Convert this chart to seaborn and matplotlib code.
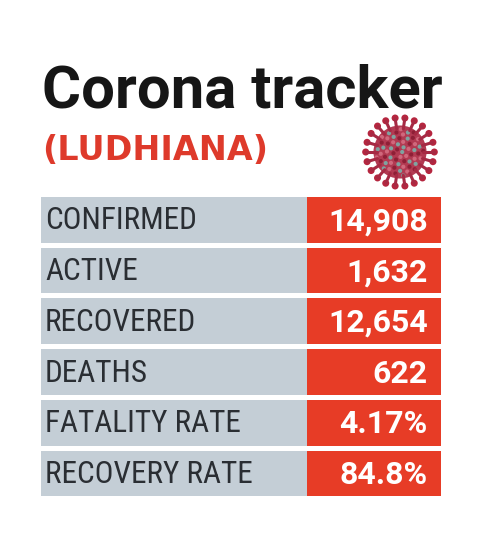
import numpy as np
import pandas as pd
import matplotlib
matplotlib.use("Agg")
import matplotlib.pyplot as plt
import seaborn as sns
from matplotlib import font_manager as fm
from matplotlib.patches import Circle

# ---- data ----
title = "Corona tracker"
subtitle = "(LUDHIANA)"
categories = ["CONFIRMED", "ACTIVE", "RECOVERED", "DEATHS", "FATALITY RATE", "RECOVERY RATE"]
values = ["14,908", "1,632", "12,654", "622", "4.17%", "84.8%"]


def pick(*names):
    avail = {f.name for f in fm.fontManager.ttflist}
    for n in names:
        if n in avail:
            return n
    return "DejaVu Sans"


sns.set_theme(style="white")
plt.rcParams["font.family"] = ["DejaVu Sans"]

NARROW = pick("Liberation Sans Narrow", "Roboto Condensed", "Roboto")
BOLD = pick("Roboto", "Lato", "DejaVu Sans")

GRAY = "#c4ced6"
RED = "#e73c26"
TEXT = "#2a2e33"

W, H = 479, 540
fig = plt.figure(figsize=(W / 100, H / 100), dpi=100)
fig.patch.set_facecolor("white")

# ---- title ----
fig.text(42 / W, 1 - 107 / H, title, fontfamily=BOLD, fontweight="bold",
         fontsize=43, color="#161616", va="baseline", ha="left")
fig.text(42 / W, 1 - 159.5 / H, subtitle, fontfamily="DejaVu Sans", fontweight="bold",
         fontsize=24, color="#de3a2b", va="baseline", ha="left")

# ---- table ----
n = len(categories)
df = pd.DataFrame({"category": categories, "value": values})
LABEL_END, TOTAL = 1.0, 1.5
df["label_cell"] = LABEL_END
df["value_cell"] = TOTAL

top_px, bot_px = 194.4, 498.8
ax = fig.add_axes([40.7 / W, 1 - bot_px / H, 400 / W, (bot_px - top_px) / H])
sns.barplot(data=df, x="value_cell", y="category", color=RED, saturation=1,
            width=0.9, linewidth=0, orient="h", ax=ax)
sns.barplot(data=df, x="label_cell", y="category", color=GRAY, saturation=1,
            width=0.9, linewidth=0, orient="h", ax=ax)
ax.set_xlim(0, TOTAL)
ax.set_ylim(n - 0.5, -0.5)
ax.axis("off")

for i, (c, v) in enumerate(zip(df["category"], df["value"])):
    ax.text(0.016, i + 0.19, c, fontfamily=NARROW, fontsize=22.5, color=TEXT,
            va="baseline", ha="left")
    ax.text(1.452, i + 0.21, v, fontfamily=BOLD, fontweight="bold", fontsize=23,
            color="white", va="baseline", ha="right")

# ---- virus decoration ----
vax = fig.add_axes([361 / W, 1 - 191 / H, 78 / W, 78 / H])
vax.set_xlim(-1, 1)
vax.set_ylim(-1, 1)
vax.set_aspect("equal")
vax.axis("off")
vax.add_patch(Circle((0, 0), 0.68, color="#b23a52", lw=0))
ang = np.linspace(0, 2 * np.pi, 22, endpoint=False)
for a in ang:
    vax.plot([0.6 * np.cos(a), 0.86 * np.cos(a)], [0.6 * np.sin(a), 0.86 * np.sin(a)],
             color="#a62a44", lw=2.2, solid_capstyle="round")
    vax.add_patch(Circle((0.88 * np.cos(a), 0.88 * np.sin(a)), 0.09, color="#b5263f", lw=0))
k = np.arange(60)
r = 0.62 * np.sqrt((k + 0.5) / 60)
th = k * 2.39996
cols = np.where(k % 3 == 0, "#7fa3a0", np.where(k % 3 == 1, "#8e1f36", "#d0687c"))
vax.scatter(r * np.cos(th), r * np.sin(th), s=9, c=cols, linewidths=0)

fig.savefig("out.png", dpi=100, facecolor="white")
